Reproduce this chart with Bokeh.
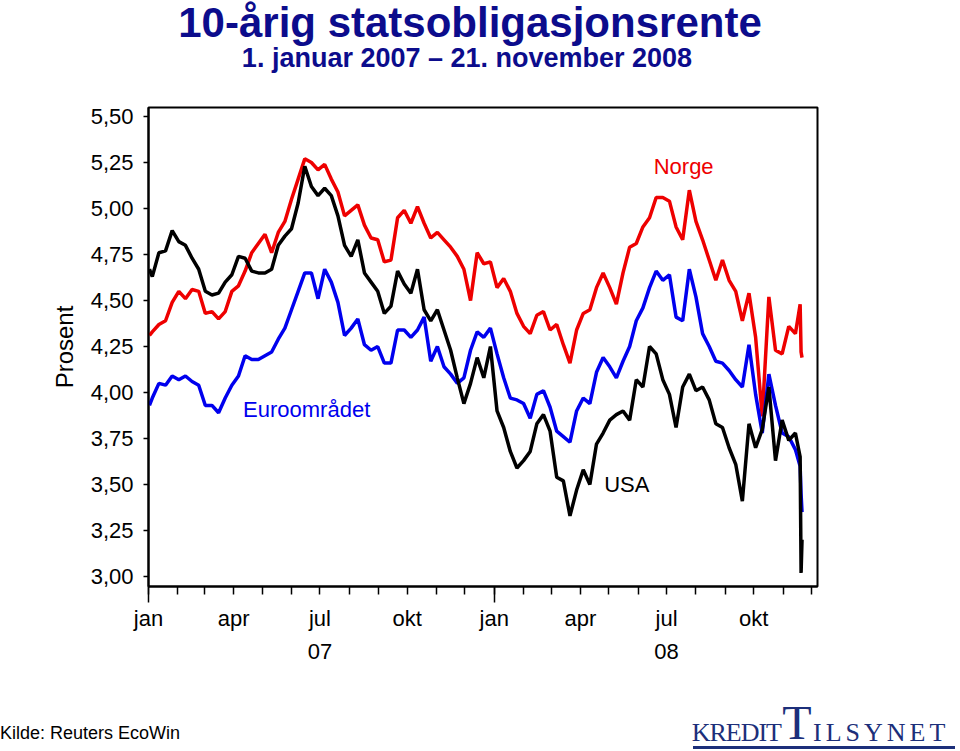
import pandas as pd
from bokeh.plotting import figure
from bokeh.layouts import column
from bokeh.models import Range1d, FixedTicker, DatetimeAxis, Label, ColumnDataSource, Div
from bokeh.embed import file_html
from bokeh.resources import INLINE

# ---------------- data ----------------
weekly = list(pd.date_range("2007-01-05", "2008-11-14", freq="7D"))
dates = [pd.Timestamp("2007-01-02")] + weekly + [pd.Timestamp("2008-11-19"),
                                                 pd.Timestamp("2008-11-20"),
                                                 pd.Timestamp("2008-11-21")]

norge = [4.31,
         4.33, 4.37, 4.39, 4.49, 4.55, 4.51, 4.56, 4.55, 4.43, 4.44,
         4.40, 4.44, 4.55, 4.58, 4.66, 4.76, 4.81, 4.86, 4.76, 4.87,
         4.93, 5.05, 5.16, 5.27, 5.25, 5.21, 5.24, 5.16, 5.09, 4.96,
         4.99, 5.02, 4.91, 4.84, 4.83, 4.71, 4.72, 4.95, 4.99, 4.92,
         5.01, 4.92, 4.84, 4.87, 4.83, 4.79, 4.74, 4.67, 4.50, 4.76,
         4.70, 4.71, 4.57, 4.62, 4.55, 4.43, 4.36, 4.32, 4.42, 4.44,
         4.34, 4.37, 4.26, 4.16, 4.34, 4.43, 4.45, 4.57, 4.65, 4.57,
         4.48, 4.65, 4.79, 4.81, 4.90, 4.95, 5.06, 5.06, 5.04, 4.90,
         4.83, 5.10, 4.93, 4.83, 4.72, 4.61, 4.72, 4.61, 4.55, 4.39,
         4.54, 4.30, 3.87, 4.52, 4.23, 4.21, 4.36, 4.32,
         4.48, 4.22, 4.19]

usa = [4.67,
       4.63, 4.76, 4.77, 4.88, 4.82, 4.80, 4.73, 4.67, 4.55, 4.53,
       4.54, 4.60, 4.64, 4.74, 4.73, 4.66, 4.65, 4.65, 4.67, 4.80,
       4.85, 4.89, 5.03, 5.23, 5.12, 5.07, 5.11, 5.07, 4.96, 4.80,
       4.74, 4.83, 4.65, 4.60, 4.55, 4.43, 4.47, 4.66, 4.59, 4.54,
       4.67, 4.45, 4.39, 4.45, 4.34, 4.23, 4.08, 3.94, 4.05, 4.19,
       4.08, 4.25, 3.90, 3.81, 3.68, 3.59, 3.63, 3.68, 3.83, 3.88,
       3.79, 3.54, 3.52, 3.33, 3.47, 3.58, 3.50, 3.72, 3.78, 3.85,
       3.88, 3.90, 3.85, 4.07, 4.03, 4.25, 4.21, 4.07, 3.99, 3.81,
       4.03, 4.10, 4.01, 4.03, 3.96, 3.83, 3.81, 3.70, 3.61, 3.41,
       3.83, 3.70, 3.80, 4.03, 3.63, 3.85, 3.74, 3.78,
       3.65, 3.02, 3.20]

euro = [3.93,
        3.97, 4.05, 4.04, 4.09, 4.07, 4.09, 4.06, 4.04, 3.93, 3.93,
        3.89, 3.97, 4.04, 4.09, 4.20, 4.18, 4.18, 4.20, 4.22, 4.29,
        4.35, 4.45, 4.55, 4.65, 4.65, 4.51, 4.67, 4.60, 4.49, 4.31,
        4.35, 4.40, 4.26, 4.23, 4.25, 4.16, 4.16, 4.34, 4.34, 4.30,
        4.34, 4.41, 4.17, 4.25, 4.14, 4.10, 4.05, 4.08, 4.23, 4.33,
        4.30, 4.35, 4.21, 4.08, 3.97, 3.96, 3.94, 3.86, 3.99, 4.01,
        3.92, 3.79, 3.76, 3.73, 3.90, 3.97, 3.94, 4.11, 4.19, 4.14,
        4.08, 4.17, 4.25, 4.39, 4.46, 4.57, 4.66, 4.61, 4.64, 4.41,
        4.39, 4.67, 4.52, 4.32, 4.25, 4.17, 4.16, 4.12, 4.07, 4.03,
        4.26, 3.99, 3.78, 4.10, 3.93, 3.78, 3.76, 3.69,
        3.60, 3.45, 3.35]

y_ticks = [3.00, 3.25, 3.50, 3.75, 4.00, 4.25, 4.50, 4.75, 5.00, 5.25, 5.50]
month_ticks = list(pd.date_range("2007-01-01", "2008-12-01", freq="MS"))
quarter_names = {1: "jan", 4: "apr", 7: "jul", 10: "okt"}
year_ticks = [pd.Timestamp("2007-07-01"), pd.Timestamp("2008-07-01")]
year_labels = ["07", "08"]

title_text = "10-årig statsobligasjonsrente"
subtitle_text = "1. januar 2007 – 21. november 2008"
source_text = "Kilde: Reuters EcoWin"

# ---------------- helpers / styles ----------------
def ms(ts):
    return int(pd.Timestamp(ts).value // 10**6)

FONT = "Liberation Sans"
SERIF = "Liberation Serif"
TITLE_BLUE = "#0c0c8c"
LOGO = "#1c2f7a"
RED, BLUE, BLACK = "#ee0000", "#0000ee", "#000000"

W = 960
H_TOP, H_MAIN, H_BOT = 100, 590, 60
FL, FR, FT, FB = 148, 817, 107, 586     # frame edges in page pixels


def span(text, style):
    return f'<div style="position:absolute;white-space:nowrap;{style}">{text}</div>'

# ---------------- title strip ----------------
top_html = (
    f'<div style="position:relative;width:{W}px;height:{H_TOP}px;background:white;">'
    + span(title_text,
           f"left:0;width:940px;top:0px;text-align:center;font-family:'{FONT}';"
           f"font-weight:bold;font-size:42px;line-height:46px;color:{TITLE_BLUE};")
    + span(subtitle_text,
           f"left:0;width:934px;top:45px;text-align:center;font-family:'{FONT}';"
           f"font-weight:bold;font-size:27px;line-height:27px;color:{TITLE_BLUE};")
    + '</div>')
top = Div(text=top_html, width=W, height=H_TOP, margin=(0, 0, 0, 0))

# ---------------- main chart ----------------
src = ColumnDataSource(dict(date=dates, norge=norge, usa=usa, euro=euro))

p = figure(width=W, height=H_MAIN, x_axis_type="datetime",
           x_range=Range1d(ms("2007-01-01"), ms("2008-12-07 08:00")),
           y_range=Range1d(2.946, 5.549),
           output_backend="svg", toolbar_location=None,
           min_border_left=FL, min_border_right=W - FR,
           min_border_top=FT - H_TOP, min_border_bottom=H_TOP + H_MAIN - FB)
p.grid.visible = False
p.outline_line_color = "black"
p.outline_line_width = 2
p.background_fill_color = "white"
p.border_fill_color = "white"

p.line("date", "norge", source=src, line_color=RED, line_width=3.5)
p.line("date", "euro", source=src, line_color=BLUE, line_width=3.5)
p.line("date", "usa", source=src, line_color=BLACK, line_width=3.5)

# y axis
ya = p.yaxis[0]
ya.ticker = FixedTicker(ticks=y_ticks, minor_ticks=[])
ya.major_label_overrides = {t: f"{t:.2f}".replace(".", ",") for t in y_ticks}
ya.major_tick_out = 5
ya.major_tick_in = 0
ya.major_label_standoff = 10
ya.major_label_text_font = FONT
ya.major_label_text_font_size = "22px"
ya.major_label_text_color = "black"
ya.axis_line_width = 2
ya.major_tick_line_width = 1.5
ya.axis_label = "Prosent"
ya.axis_label_text_font = FONT
ya.axis_label_text_font_size = "24px"
ya.axis_label_text_font_style = "normal"
ya.axis_label_text_color = "black"
ya.axis_label_standoff = 10

# x axis 1: tick marks only (long at January, short at every month)
xa = p.xaxis[0]
jan_ticks = [ms(t) for t in month_ticks if t.month == 1]
xa.ticker = FixedTicker(ticks=jan_ticks, minor_ticks=[ms(t) for t in month_ticks])
xa.major_label_overrides = {t: "" for t in jan_ticks}
xa.major_label_text_font_size = "1px"
xa.major_label_standoff = 0
xa.major_tick_out = 16
xa.major_tick_in = 0
xa.minor_tick_out = 8
xa.minor_tick_in = 0
xa.major_tick_line_width = 1.5
xa.minor_tick_line_width = 1.5
xa.axis_line_width = 2

# x axis 2: quarter month names
q_axis = DatetimeAxis(
    ticker=FixedTicker(ticks=[ms(t) for t in month_ticks if t.month in quarter_names],
                       minor_ticks=[]),
    major_label_overrides={ms(t): quarter_names[t.month]
                           for t in month_ticks if t.month in quarter_names},
    axis_line_color=None, major_tick_line_color=None, minor_tick_line_color=None,
    major_tick_out=0, minor_tick_out=0, major_label_standoff=3,
    major_label_text_font=FONT, major_label_text_font_size="22px",
    major_label_text_color="black")
p.add_layout(q_axis, "below")

# x axis 3: years
y_axis2 = DatetimeAxis(
    ticker=FixedTicker(ticks=[ms(t) for t in year_ticks], minor_ticks=[]),
    major_label_overrides={ms(t): l for t, l in zip(year_ticks, year_labels)},
    axis_line_color=None, major_tick_line_color=None, minor_tick_line_color=None,
    major_tick_out=0, minor_tick_out=0, major_label_standoff=10,
    major_label_text_font=FONT, major_label_text_font_size="22px",
    major_label_text_color="black")
p.add_layout(y_axis2, "below")

# series labels
p.add_layout(Label(x=ms("2008-07-19"), y=5.23, text="Norge", text_color=RED,
                   text_font=FONT, text_font_size="22px",
                   text_align="center", text_baseline="middle"))
p.add_layout(Label(x=ms("2007-06-17"), y=3.91, text="Euroområdet", text_color=BLUE,
                   text_font=FONT, text_font_size="22px",
                   text_align="center", text_baseline="middle"))
p.add_layout(Label(x=ms("2008-05-20"), y=3.50, text="USA", text_color=BLACK,
                   text_font=FONT, text_font_size="22px",
                   text_align="center", text_baseline="middle"))

# ---------------- footer strip (page y 690..750) ----------------
bot_html = (
    f'<div style="position:relative;width:{W}px;height:{H_BOT}px;background:white;">'
    + span(source_text,
           f"left:0;top:34px;font-family:'{FONT}';font-size:18px;line-height:18px;"
           f"color:black;")
    + span("KREDIT",
           f"right:179px;top:30px;text-align:right;font-family:'{SERIF}';"
           f"font-size:26px;line-height:26px;letter-spacing:-1px;color:{LOGO};")
    + span("T",
           f"left:767px;width:60px;top:13px;text-align:center;font-family:'{SERIF}';"
           f"font-size:48px;line-height:40px;color:{LOGO};")
    + span("ILSYNET",
           f"left:813px;top:30px;font-family:'{SERIF}';"
           f"font-size:26px;line-height:26px;letter-spacing:4px;color:{LOGO};")
    + f'<div style="position:absolute;left:693px;top:56px;width:262px;height:3px;'
      f'background:{LOGO};"></div>'
    + '</div>')
bot = Div(text=bot_html, width=W, height=H_BOT, margin=(0, 0, 0, 0))

layout = column(top, p, bot, spacing=0)
open("out.html", "w").write(file_html(layout, INLINE))
